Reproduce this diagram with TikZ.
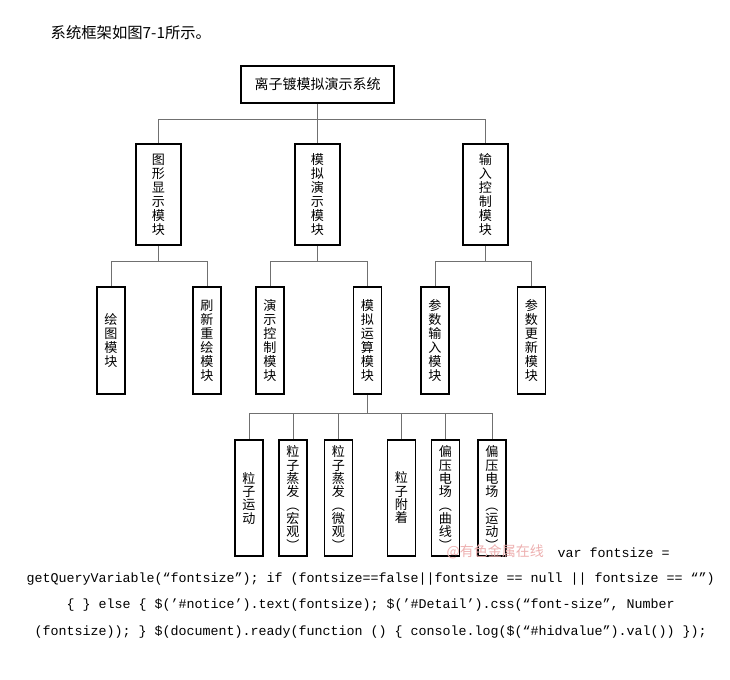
\documentclass[tikz,border=0pt]{standalone}
\usepackage{fontspec}
\setmainfont{Liberation Serif}
\newfontfamily\cjk{Noto Sans CJK SC}
\newfontfamily\codefont{Liberation Mono}
\definecolor{linegray}{HTML}{707070}
\definecolor{markpink}{HTML}{EDB0B0}

\begin{document}
\begin{tikzpicture}[x=0.75pt, y=-0.75pt,
  topbox/.style={draw, line width=1.1pt, inner sep=0pt, minimum width=115pt, minimum height=28pt,
    font=\cjk\fontsize{10.5}{12}\selectfont},
  modbox/.style={draw, line width=1.1pt, inner sep=0pt, align=center, minimum width=21pt,
    font=\cjk\fontsize{9.8}{10.5}\selectfont},
  leafbox/.style={modbox, minimum height=87pt, font=\cjk\fontsize{9.8}{10}\selectfont},
  link/.style={draw=linegray, line width=0.75pt}]
  \useasboundingbox (0,0) rectangle (730,679);

  % Caption
  \node[anchor=west, font=\cjk\fontsize{11.5}{13}\selectfont] (cap) at (46,33) {系统框架如图7-1所示。};

  % Root
  \node[topbox] (root) at (317.5,84.5) {离子镀模拟演示系统};

  % Second level
  \node[modbox, minimum width=34pt, minimum height=76pt] (show) at (158.5,194.5) {图\\形\\显\\示\\模\\块};
  \node[modbox, minimum width=34pt, minimum height=76pt] (sim)  at (317.5,194.5) {模\\拟\\演\\示\\模\\块};
  \node[modbox, minimum width=34pt, minimum height=76pt] (inp)  at (485.5,194.5) {输\\入\\控\\制\\模\\块};

  % Third level
  \node[modbox, minimum height=80pt] (draw)   at (111,340.5)   {绘\\图\\模\\块};
  \node[modbox, minimum height=80pt] (redraw) at (207,340.5)   {刷\\新\\重\\绘\\模\\块};
  \node[modbox, minimum height=80pt] (ctrl)   at (270,340.5)   {演\\示\\控\\制\\模\\块};
  \node[modbox, minimum height=80pt] (calc)   at (367.5,340.5) {模\\拟\\运\\算\\模\\块};
  \node[modbox, minimum height=80pt] (pin)    at (435,340.5)   {参\\数\\输\\入\\模\\块};
  \node[modbox, minimum height=80pt] (pupd)   at (531.5,340.5) {参\\数\\更\\新\\模\\块};

  % Fourth level
  \node[leafbox] (move)  at (249,498)   {粒\\子\\运\\动};
  \node[leafbox] (evmac) at (293,498)   {粒\\子\\蒸\\发\\︵\\宏\\观\\︶};
  \node[leafbox] (evmic) at (338.5,498) {粒\\子\\蒸\\发\\︵\\微\\观\\︶};
  \node[leafbox] (stick) at (401.5,498) {粒\\子\\附\\着};
  \node[leafbox] (fcur)  at (445.5,498) {偏\\压\\电\\场\\︵\\曲\\线\\︶};
  \node[leafbox] (fmov)  at (492,498)   {偏\\压\\电\\场\\︵\\运\\动\\︶};

  % Buses
  \coordinate (bus0) at (317.5,119);
  \coordinate (busA) at (158.5,261);
  \coordinate (busB) at (317.5,261);
  \coordinate (busC) at (485.5,261);
  \coordinate (busD) at (367.5,413);

  \draw[link] (root) -- (bus0);
  \draw[link] (bus0) -| (show.north);
  \draw[link] (bus0) -- (sim.north);
  \draw[link] (bus0) -| (inp.north);

  \draw[link] (show) -- (busA);
  \draw[link] (busA) -| (draw.north);
  \draw[link] (busA) -| (redraw.north);
  \draw[link] (sim) -- (busB);
  \draw[link] (busB) -| (ctrl.north);
  \draw[link] (busB) -| (calc.north);
  \draw[link] (inp) -- (busC);
  \draw[link] (busC) -| (pin.north);
  \draw[link] (busC) -| (pupd.north);

  \draw[link] (calc) -- (busD);
  \foreach \k in {move,evmac,evmic,stick,fcur,fmov}
    \draw[link] (busD) -| (\k.north);

  % Watermark and page text
  \node[anchor=west, text=markpink, font=\cjk\fontsize{10.5}{12}\selectfont] (mark) at (442,552) {@有色金属在线};
  \node[anchor=west, font=\codefont\fontsize{10}{12}\selectfont] (l1) at (553,553) {var fontsize =};
  \node[anchor=west, font=\codefont\fontsize{10}{12}\selectfont] (l2) at (22,579)
    {getQueryVariable(“fontsize”); if (fontsize==false||fontsize == null || fontsize == “”)};
  \node[anchor=west, font=\codefont\fontsize{10}{12}\selectfont] (l3) at (62,605)
    {\{ \} else \{ \$(’\#notice’).text(fontsize); \$(’\#Detail’).css(“font-size”, Number};
  \node[anchor=west, font=\codefont\fontsize{10}{12}\selectfont] (l4) at (30,632)
    {(fontsize)); \} \$(document).ready(function () \{ console.log(\$(“\#hidvalue”).val()) \});};
\end{tikzpicture}
\end{document}
